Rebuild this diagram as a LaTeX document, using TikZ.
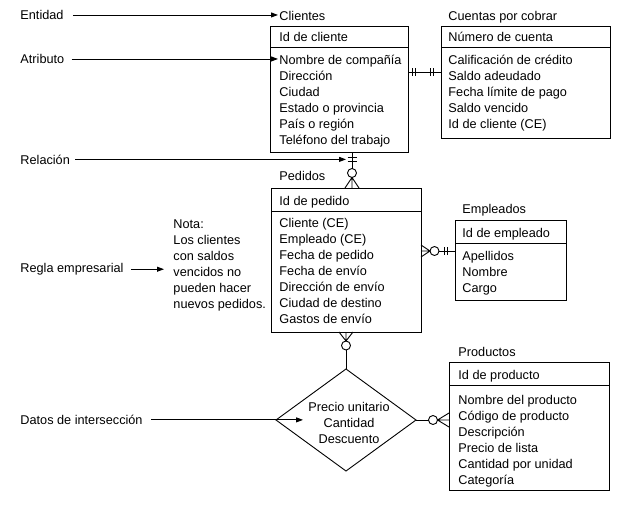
\documentclass[tikz,border=0pt]{standalone}
\usepackage{fontspec}
\setmainfont{Liberation Sans}
\usetikzlibrary{arrows.meta,shapes.geometric}
\begin{document}
\begin{tikzpicture}[x=1pt,y=-1pt,line width=0.9pt,
  every node/.style={font=\fontsize{12.7}{16}\selectfont},
  txt/.style={anchor=base west,inner sep=0pt},
  ent/.style={draw,anchor=north west,inner sep=0pt,outer sep=0pt},
  arr/.style={-{Triangle[length=7pt,width=5pt]}},
  ring/.style={draw,circle,inner sep=0pt,minimum size=9pt,outer sep=0pt}]
\useasboundingbox (0,0) rectangle (638,504);

% ---------- Clientes
\node[txt] (cliT) at (279,20.5) {Clientes};
\node[ent,minimum width=138pt,minimum height=126pt] (cli) at (270,26) {};
\draw (270,47) -- (408,47);
\node[txt] (cliK) at (279,41) {Id de cliente};
\foreach \t [count=\i from 0] in {{Nombre de compañía},{Dirección},{Ciudad},{Estado o provincia},{País o región},{Teléfono del trabajo}}
  \node[txt] (cliA\i) at (279,64.5+16*\i) {\t};

% ---------- Cuentas por cobrar
\node[txt] (cueT) at (448,20.5) {Cuentas por cobrar};
\node[ent,minimum width=169pt,minimum height=112pt] (cue) at (441,26) {};
\draw (441,47) -- (610,47);
\node[txt] (cueK) at (448,41.5) {Número de cuenta};
\foreach \t [count=\i from 0] in {{Calificación de crédito},{Saldo adeudado},{Fecha límite de pago},{Saldo vencido},{Id de cliente (CE)}}
  \node[txt] (cueA\i) at (448,64.5+16*\i) {\t};

% ---------- Pedidos
\node[txt] (pedT) at (279,180.5) {Pedidos};
\node[ent,minimum width=150pt,minimum height=144pt] (ped) at (271,188) {};
\draw (271,211) -- (421,211);
\node[txt] (pedK) at (279,205.5) {Id de pedido};
\foreach \t [count=\i from 0] in {{Cliente (CE)},{Empleado (CE)},{Fecha de pedido},{Fecha de envío},{Dirección de envío},{Ciudad de destino},{Gastos de envío}}
  \node[txt] (pedA\i) at (279,227.5+16*\i) {\t};

% ---------- Empleados
\node[txt] (empT) at (462,213.5) {Empleados};
\node[ent,minimum width=111pt,minimum height=80pt] (emp) at (455,220) {};
\draw (455,243) -- (566,243);
\node[txt] (empK) at (462,237.5) {Id de empleado};
\foreach \t [count=\i from 0] in {{Apellidos},{Nombre},{Cargo}}
  \node[txt] (empA\i) at (462,260.5+16*\i) {\t};

% ---------- Productos
\node[txt] (proT) at (458,356.5) {Productos};
\node[ent,minimum width=160pt,minimum height=128pt] (pro) at (449,362) {};
\draw (449,385) -- (609,385);
\node[txt] (proK) at (458,379.5) {Id de producto};
\foreach \t [count=\i from 0] in {{Nombre del producto},{Código de producto},{Descripción},{Precio de lista},{Cantidad por unidad},{Categoría}}
  \node[txt] (proA\i) at (458,404.5+16*\i) {\t};

% ---------- Intersection diamond
\node[draw,diamond,minimum width=140pt,minimum height=102pt,inner sep=0pt,outer sep=0pt] (dia) at (346,420) {};
\node[align=center,inner sep=0pt] (diaT) at (349,423) {Precio unitario\\Cantidad\\Descuento};

% ---------- Note
\foreach \t [count=\i from 0] in {{Nota:},{Los clientes},{con saldos},{vencidos no},{pueden hacer},{nuevos pedidos.}}
  \node[txt] (nota\i) at (173,228+16*\i) {\t};

% ---------- Side labels
\node[txt] (lEnt) at (20,19.5) {Entidad};
\node[txt] (lAtr) at (20,63.5) {Atributo};
\node[txt] (lRel) at (20,164) {Relación};
\node[txt] (lReg) at (20,272.5) {Regla empresarial};
\node[txt] (lDat) at (20,424.5) {Datos de intersección};

\coordinate (relTip) at (346,0);
\coordinate (regTip) at (164,0);
\coordinate (datTip) at (303,0);
\draw[arr] ([xshift=9pt]lEnt.east) -- ([xshift=-1pt]lEnt.east -| cliT.west);
\draw[arr] ([xshift=7pt]lAtr.east) -- ([xshift=-1pt]lAtr.east -| cliA0.west);
\draw[arr] ([xshift=5pt]lRel.east) -- (lRel.east -| relTip);
\draw[arr] ([xshift=7pt]lReg.east) -- (lReg.east -| regTip);
\draw[arr] ([xshift=8pt]lDat.east) -- (lDat.east -| datTip);

% ---------- Clientes -- Cuentas (one and only one, both ends)
\coordinate (ccA) at (408,72);
\coordinate (ccB) at (441,72);
\draw (ccA) -- (ccB);
\foreach \x in {412,415,430,433} \draw (\x,68) -- (\x,76);

% ---------- Clientes -- Pedidos (one-one to zero-many)
\coordinate (cpA) at (352,152);
\coordinate (cpB) at (352,188);
\node[ring] (cpO) at (352,173) {};
\draw (cpA) -- (cpO.north);
\draw (347.5,157) -- (356.5,157) (347.5,161) -- (356.5,161);
\draw (cpO.south) -- (cpB) (345,188) -- (cpO.south) -- (359,188);

% ---------- Pedidos -- Empleados
\coordinate (peA) at (421,251);
\coordinate (peB) at (455,251);
\node[ring] (peO) at (434.5,251) {};
\draw (peA) -- (peO.west) (421,245) -- (peO.west) -- (421,257);
\draw (peO.east) -- (peB);
\draw (444.5,247) -- (444.5,255) (447.5,247) -- (447.5,255);

% ---------- Pedidos -- diamond
\coordinate (pdA) at (346,332);
\node[ring] (pdO) at (346,345.5) {};
\draw (pdA) -- (pdO.north) (339,332) -- (pdO.north) -- (353,332);
\draw (pdO.south) -- (dia.north);

% ---------- diamond -- Productos
\coordinate (dpB) at (449,420);
\node[ring] (dpO) at (433,420) {};
\draw (dia.east) -- (dpO.west);
\draw (dpO.east) -- (dpB) (449,413) -- (dpO.east) -- (449,427);
\end{tikzpicture}
\end{document}
